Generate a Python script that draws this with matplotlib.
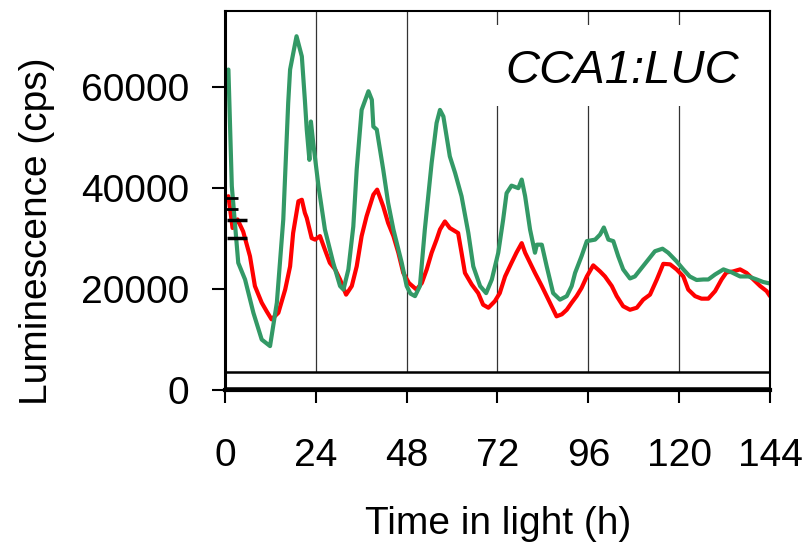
import numpy as np
import matplotlib
matplotlib.use('Agg')
import matplotlib.pyplot as plt
from matplotlib.patches import Rectangle

plt.rcParams['font.family'] = ['Liberation Sans', 'DejaVu Sans']

# green trace (time h, luminescence cps)
green_t = [0.9, 1.8, 3.5, 5.3, 7.5, 9.7, 11.9, 13.7, 15.4, 16.7, 17.2, 18.9, 20.3, 21.1,
           21.6, 22.3, 22.7, 23.3, 24.7, 26.4, 28.6, 30.4, 31.3, 32.6, 33.9, 34.8, 36.1,
           37.9, 38.8, 39.2, 40.1, 41.8, 43.1, 44.5, 46.7, 48.0, 49.0, 50.2, 51.5, 52.8,
           54.6, 55.9, 56.8, 57.7, 59.4, 60.8, 62.5, 64.3, 65.6, 67.4, 69.0, 70.5, 72.2,
           73.5, 74.4, 75.7, 77.5, 78.4, 79.3, 80.6, 81.9, 82.4, 83.7, 85.0, 86.7, 88.5,
           90.3, 91.6, 92.5, 94.2, 95.6, 97.8, 99.1, 100.1, 101.3, 102.6, 103.9, 105.2,
           107.0, 108.3, 110.1, 111.8, 113.6, 115.6, 117.1, 119.3, 121.1, 122.8, 124.6,
           126.4, 127.7, 129.5, 131.7, 133.9, 136.1, 138.3, 140.5, 142.2, 144.0]
green_y = [63400, 40300, 25100, 21800, 15200, 9900, 8600, 17200, 33700, 56800, 63400, 70000,
           66000, 57400, 51500, 45500, 53100, 48900, 40300, 31700, 25100, 20500, 19800,
           23800, 32300, 43600, 55400, 59100, 57400, 52100, 51500, 43600, 37000, 31700,
           25100, 20500, 19000, 18500, 20500, 31700, 44900, 52800, 55400, 54100, 46200,
           42900, 38300, 31000, 24400, 20500, 19100, 21800, 27100, 33700, 38900, 40400,
           39900, 41600, 38300, 31700, 27100, 28700, 28700, 24400, 19100, 17800, 18500,
           20500, 23100, 26400, 29400, 29700, 30700, 32100, 29700, 29400, 26400, 23800,
           22000, 22400, 24100, 25700, 27400, 27900, 27100, 25400, 23800, 22400, 21700,
           21800, 21800, 22800, 23800, 23200, 22400, 22400, 21800, 21300, 21000]

# red trace
red_t = [0.9, 2.0, 3.3, 4.8, 6.6, 7.9, 9.7, 11.0, 12.3, 14.1, 15.9, 17.2, 18.0, 19.4, 20.3,
         21.1, 21.6, 22.9, 23.8, 25.1, 26.4, 27.7, 29.1, 30.4, 32.0, 33.5, 34.8, 36.1, 37.4,
         39.2, 40.2, 41.8, 43.1, 44.5, 45.8, 47.1, 48.6, 50.6, 52.0, 53.3, 54.6, 55.9, 56.8,
         58.1, 59.4, 61.6, 62.5, 63.4, 65.2, 66.9, 68.2, 69.6, 71.3, 72.6, 74.0, 75.7, 77.0,
         78.4, 79.3, 80.6, 81.9, 83.7, 85.0, 86.3, 87.6, 89.0, 90.3, 91.6, 92.9, 94.2, 95.6,
         97.3, 99.1, 100.4, 102.2, 103.5, 105.2, 107.0, 108.8, 110.5, 112.3, 114.1, 115.8,
         117.6, 119.3, 121.1, 122.4, 124.2, 125.9, 127.7, 129.5, 131.2, 132.5, 134.3, 136.1,
         137.8, 139.6, 141.4, 143.1, 144.0]
red_y = [38300, 32000, 33700, 31300, 26400, 20500, 17200, 15500, 13900, 15200, 19800, 24400,
         31000, 37300, 37600, 35000, 34000, 30000, 29700, 30400, 27700, 25100, 23800, 21800,
         18800, 20500, 24400, 30400, 34300, 38600, 39600, 36300, 33000, 30400, 27100, 23100,
         21100, 19800, 21100, 23800, 27100, 29700, 31700, 33300, 32000, 31000, 27100, 23100,
         20800, 19100, 16800, 16200, 17500, 19100, 22400, 25100, 27100, 29000, 27100, 25100,
         23100, 20500, 18500, 16500, 14500, 14900, 15800, 17200, 18500, 20100, 22400, 24600,
         23400, 22400, 20500, 18500, 16500, 15800, 16200, 17800, 18800, 21800, 24900, 24800,
         23800, 22400, 19800, 18500, 18000, 18000, 19500, 21800, 23200, 23400, 23800, 23100,
         21800, 20500, 19500, 18500]

# error bars at the start (only caps visible)
err1_t, err1_y, err1_e = [1.9], [36900], [1100]
err2_t, err2_y, err2_e = [3.2], [31800], [1700]

xticks = [0, 24, 48, 72, 96, 120, 144]
yticks = [0, 20000, 40000, 60000]
light_start, light_end = 0, 144
bar_low, bar_high = 300, 3470

W, H = 812, 545
fig = plt.figure(figsize=(W / 100, H / 100), dpi=100)
ax = fig.add_axes([225 / W, (H - 389.5) / H, 545 / W, 378.5 / H])

ax.set_xlim(0, 144)
ax.set_ylim(0, 75000)
ax.set_xticks(xticks)
ax.set_yticks(yticks)
ax.set_xticklabels([str(v) for v in xticks])
ax.set_yticklabels([str(v) for v in yticks])
ax.tick_params(axis='y', direction='out', length=9.5, width=1.5, labelsize=28, pad=16)
ax.tick_params(axis='x', direction='out', length=9, width=1.5, labelsize=28, pad=26)

ax.set_axisbelow(True)
ax.grid(axis='x', color='#333333', linewidth=0.9)
ax.grid(axis='y', visible=False)

for side in ['top', 'right']:
    ax.spines[side].set_linewidth(1.5)
ax.spines['left'].set_linewidth(2.2)
ax.spines['bottom'].set_linewidth(3)

# white box behind the label
ax.add_patch(Rectangle((0.477, 0.749), 0.52, 0.214, transform=ax.transAxes,
                       facecolor='white', edgecolor='none', zorder=1))
ax.text(0.728, 0.81, 'CCA1:LUC', transform=ax.transAxes, fontsize=34,
        style='italic', ha='center', va='baseline', zorder=3)

# light bar
ax.add_patch(Rectangle((light_start, bar_low), light_end - light_start, bar_high - bar_low,
                       facecolor='white', edgecolor='black', linewidth=1.8, zorder=1.5))

ax.plot(red_t, red_y, color='#ff0000', linewidth=3, zorder=2,
        solid_joinstyle='round', solid_capstyle='round')
ax.plot(green_t, green_y, color='#339966', linewidth=3, zorder=2.1,
        solid_joinstyle='round', solid_capstyle='round')

ax.errorbar(err1_t, err1_y, yerr=err1_e, fmt='none', ecolor='black', elinewidth=0,
            capsize=4.3, capthick=2, zorder=3)
ax.errorbar(err2_t, err2_y, yerr=err2_e, fmt='none', ecolor='black', elinewidth=0,
            capsize=7.2, capthick=2.5, zorder=3)

fig.text(498 / W, 11 / H, 'Time in light (h)', fontsize=28, ha='center', va='baseline')
fig.text(37 / W, (H - 231.7) / H, 'Luminescence (cps)', fontsize=28, rotation=90,
         ha='center', va='center')

fig.savefig('out.png', dpi=100)
